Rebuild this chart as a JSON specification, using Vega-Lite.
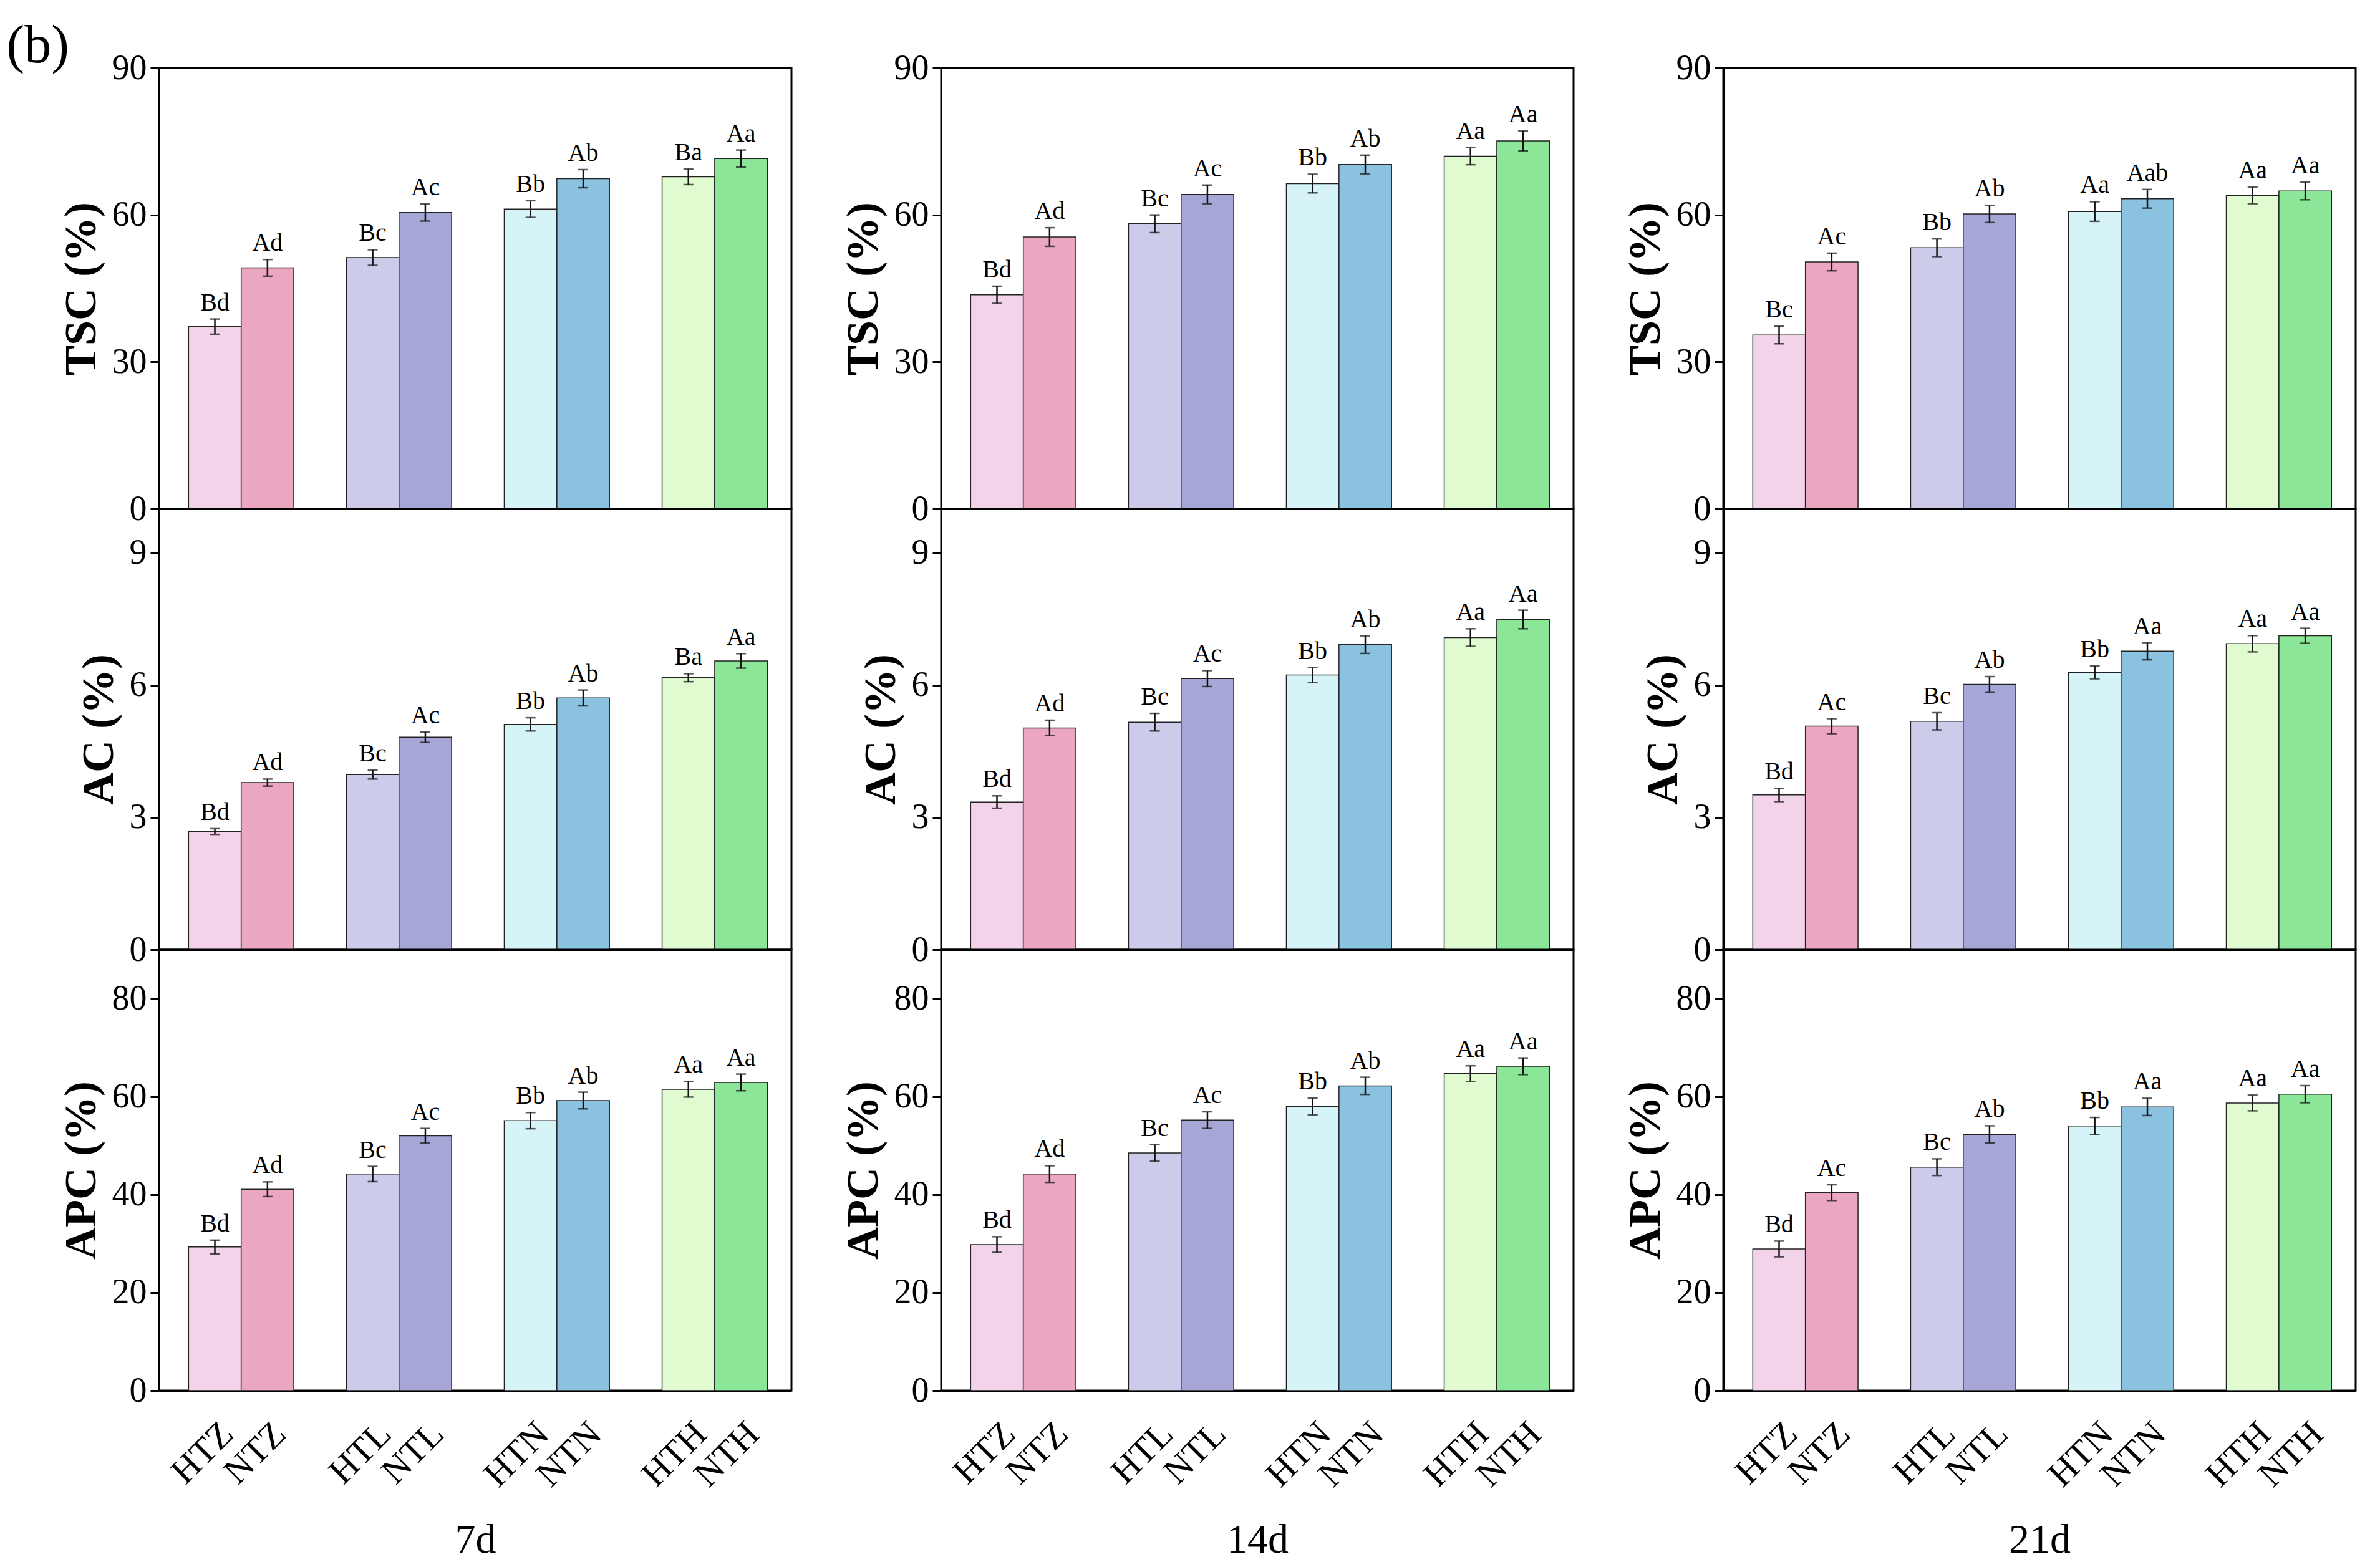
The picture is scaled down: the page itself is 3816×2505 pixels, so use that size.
{
"$schema": "https://vega.github.io/schema/vega-lite/v6.json",
"background": "white",
"padding": {"left": 10, "top": 30, "right": 20, "bottom": 10},
"title": {"text": "(b)", "anchor": "start", "frame": "bounds", "fontSize": 86, "fontWeight": "normal", "font": "Liberation Serif", "color": "black", "dx": -82, "offset": -38},
"datasets": {"d": [
{"day":"7d","m":"TSC","t":"HTZ","v":37.2,"e":1.55,"lab":"Bd"},
{"day":"7d","m":"TSC","t":"NTZ","v":49.2,"e":1.7,"lab":"Ad"},
{"day":"7d","m":"TSC","t":"HTL","v":51.3,"e":1.6,"lab":"Bc"},
{"day":"7d","m":"TSC","t":"NTL","v":60.5,"e":1.75,"lab":"Ac"},
{"day":"7d","m":"TSC","t":"HTN","v":61.2,"e":1.7,"lab":"Bb"},
{"day":"7d","m":"TSC","t":"NTN","v":67.4,"e":1.85,"lab":"Ab"},
{"day":"7d","m":"TSC","t":"HTH","v":67.8,"e":1.6,"lab":"Ba"},
{"day":"7d","m":"TSC","t":"NTH","v":71.5,"e":1.75,"lab":"Aa"},
{"day":"7d","m":"AC","t":"HTZ","v":2.68,"e":0.065,"lab":"Bd"},
{"day":"7d","m":"AC","t":"NTZ","v":3.79,"e":0.08,"lab":"Ad"},
{"day":"7d","m":"AC","t":"HTL","v":3.97,"e":0.1,"lab":"Bc"},
{"day":"7d","m":"AC","t":"NTL","v":4.82,"e":0.12,"lab":"Ac"},
{"day":"7d","m":"AC","t":"HTN","v":5.11,"e":0.15,"lab":"Bb"},
{"day":"7d","m":"AC","t":"NTN","v":5.71,"e":0.18,"lab":"Ab"},
{"day":"7d","m":"AC","t":"HTH","v":6.17,"e":0.09,"lab":"Ba"},
{"day":"7d","m":"AC","t":"NTH","v":6.55,"e":0.165,"lab":"Aa"},
{"day":"7d","m":"APC","t":"HTZ","v":29.3,"e":1.4,"lab":"Bd"},
{"day":"7d","m":"APC","t":"NTZ","v":41.1,"e":1.5,"lab":"Ad"},
{"day":"7d","m":"APC","t":"HTL","v":44.2,"e":1.55,"lab":"Bc"},
{"day":"7d","m":"APC","t":"NTL","v":52.0,"e":1.5,"lab":"Ac"},
{"day":"7d","m":"APC","t":"HTN","v":55.1,"e":1.65,"lab":"Bb"},
{"day":"7d","m":"APC","t":"NTN","v":59.2,"e":1.7,"lab":"Ab"},
{"day":"7d","m":"APC","t":"HTH","v":61.5,"e":1.6,"lab":"Aa"},
{"day":"7d","m":"APC","t":"NTH","v":62.9,"e":1.7,"lab":"Aa"},
{"day":"14d","m":"TSC","t":"HTZ","v":43.7,"e":1.75,"lab":"Bd"},
{"day":"14d","m":"TSC","t":"NTZ","v":55.5,"e":1.9,"lab":"Ad"},
{"day":"14d","m":"TSC","t":"HTL","v":58.2,"e":1.8,"lab":"Bc"},
{"day":"14d","m":"TSC","t":"NTL","v":64.2,"e":1.9,"lab":"Ac"},
{"day":"14d","m":"TSC","t":"HTN","v":66.4,"e":1.9,"lab":"Bb"},
{"day":"14d","m":"TSC","t":"NTN","v":70.3,"e":1.9,"lab":"Ab"},
{"day":"14d","m":"TSC","t":"HTH","v":72.0,"e":1.75,"lab":"Aa"},
{"day":"14d","m":"TSC","t":"NTH","v":75.1,"e":2.05,"lab":"Aa"},
{"day":"14d","m":"AC","t":"HTZ","v":3.35,"e":0.14,"lab":"Bd"},
{"day":"14d","m":"AC","t":"NTZ","v":5.03,"e":0.175,"lab":"Ad"},
{"day":"14d","m":"AC","t":"HTL","v":5.16,"e":0.2,"lab":"Bc"},
{"day":"14d","m":"AC","t":"NTL","v":6.15,"e":0.18,"lab":"Ac"},
{"day":"14d","m":"AC","t":"HTN","v":6.23,"e":0.17,"lab":"Bb"},
{"day":"14d","m":"AC","t":"NTN","v":6.92,"e":0.2,"lab":"Ab"},
{"day":"14d","m":"AC","t":"HTH","v":7.08,"e":0.2,"lab":"Aa"},
{"day":"14d","m":"AC","t":"NTH","v":7.49,"e":0.21,"lab":"Aa"},
{"day":"14d","m":"APC","t":"HTZ","v":29.8,"e":1.6,"lab":"Bd"},
{"day":"14d","m":"APC","t":"NTZ","v":44.2,"e":1.7,"lab":"Ad"},
{"day":"14d","m":"APC","t":"HTL","v":48.5,"e":1.7,"lab":"Bc"},
{"day":"14d","m":"APC","t":"NTL","v":55.2,"e":1.7,"lab":"Ac"},
{"day":"14d","m":"APC","t":"HTN","v":58.0,"e":1.7,"lab":"Bb"},
{"day":"14d","m":"APC","t":"NTN","v":62.2,"e":1.75,"lab":"Ab"},
{"day":"14d","m":"APC","t":"HTH","v":64.7,"e":1.6,"lab":"Aa"},
{"day":"14d","m":"APC","t":"NTH","v":66.2,"e":1.7,"lab":"Aa"},
{"day":"21d","m":"TSC","t":"HTZ","v":35.5,"e":1.8,"lab":"Bc"},
{"day":"21d","m":"TSC","t":"NTZ","v":50.4,"e":1.8,"lab":"Ac"},
{"day":"21d","m":"TSC","t":"HTL","v":53.3,"e":1.8,"lab":"Bb"},
{"day":"21d","m":"TSC","t":"NTL","v":60.2,"e":1.75,"lab":"Ab"},
{"day":"21d","m":"TSC","t":"HTN","v":60.7,"e":2.0,"lab":"Aa"},
{"day":"21d","m":"TSC","t":"NTN","v":63.3,"e":1.9,"lab":"Aab"},
{"day":"21d","m":"TSC","t":"HTH","v":64.0,"e":1.7,"lab":"Aa"},
{"day":"21d","m":"TSC","t":"NTH","v":64.9,"e":1.8,"lab":"Aa"},
{"day":"21d","m":"AC","t":"HTZ","v":3.51,"e":0.15,"lab":"Bd"},
{"day":"21d","m":"AC","t":"NTZ","v":5.07,"e":0.17,"lab":"Ac"},
{"day":"21d","m":"AC","t":"HTL","v":5.18,"e":0.195,"lab":"Bc"},
{"day":"21d","m":"AC","t":"NTL","v":6.02,"e":0.175,"lab":"Ab"},
{"day":"21d","m":"AC","t":"HTN","v":6.29,"e":0.145,"lab":"Bb"},
{"day":"21d","m":"AC","t":"NTN","v":6.77,"e":0.195,"lab":"Aa"},
{"day":"21d","m":"AC","t":"HTH","v":6.94,"e":0.185,"lab":"Aa"},
{"day":"21d","m":"AC","t":"NTH","v":7.12,"e":0.17,"lab":"Aa"},
{"day":"21d","m":"APC","t":"HTZ","v":28.9,"e":1.6,"lab":"Bd"},
{"day":"21d","m":"APC","t":"NTZ","v":40.4,"e":1.6,"lab":"Ac"},
{"day":"21d","m":"APC","t":"HTL","v":45.6,"e":1.7,"lab":"Bc"},
{"day":"21d","m":"APC","t":"NTL","v":52.3,"e":1.75,"lab":"Ab"},
{"day":"21d","m":"APC","t":"HTN","v":54.0,"e":1.75,"lab":"Bb"},
{"day":"21d","m":"APC","t":"NTN","v":57.9,"e":1.75,"lab":"Aa"},
{"day":"21d","m":"APC","t":"HTH","v":58.7,"e":1.6,"lab":"Aa"},
{"day":"21d","m":"APC","t":"NTH","v":60.5,"e":1.75,"lab":"Aa"}
]},
"data": {"name": "d"},
"config": {
  "font": "Liberation Serif",
  "view": {"stroke": "black", "strokeWidth": 3},
  "axis": {"labelFont": "Liberation Serif", "titleFont": "Liberation Serif", "labelColor": "black", "titleColor": "black", "domainColor": "black", "tickColor": "black", "grid": false, "domainWidth": 3, "tickWidth": 3},
  "axisY": {"labelFontSize": 56, "tickSize": 14, "labelPadding": 6, "titleFontSize": 72, "titleFontWeight": "bold", "titlePadding": 12, "format": "d"},
  "axisX": {"ticks": false, "labelOverlap": false},
  "text": {"font": "Liberation Serif", "color": "black"}
},
"hconcat": [
 {"vconcat": [
  {"width": 1014, "height": 707,
   "transform": [{"filter": "datum.day == '7d' && datum.m == 'TSC'"}, {"calculate": "datum.v + datum.e", "as": "hi"}],
   "encoding": {"x": {"field": "t", "type": "nominal", "sort": null, "scale": {"domain": ["HTZ","NTZ","s1","HTL","NTL","s2","HTN","NTN","s3","HTH","NTH"], "paddingInner": 0, "paddingOuter": 0.51, "align": 0.55}, "axis": {"labels": false, "title": null}}},
   "layer": [
    {"mark": {"type": "bar", "stroke": "#222222", "strokeWidth": 1.5}, "encoding": {"y": {"field": "v", "type": "quantitative", "title": "TSC (%)", "scale": {"domain": [0, 90], "nice": false}, "axis": {"values": [0, 30, 60, 90]}}, "color": {"field": "t", "type": "nominal", "scale": {"domain": ["HTZ","NTZ","HTL","NTL","HTN","NTN","HTH","NTH"], "range": ["#F3D3EA","#EBA7C1","#CCCBEA","#A6A7D7","#D6F4F7","#8AC2E0","#E0FBD0","#8CE698"]}, "legend": null}}},
    {"mark": {"type": "errorbar", "ticks": {"size": 16, "thickness": 2.5, "color": "#111111"}, "rule": {"strokeWidth": 2.5, "color": "#111111"}}, "encoding": {"y": {"field": "v", "type": "quantitative", "title": "TSC (%)"}, "yError": {"field": "e"}}},
    {"mark": {"type": "text", "dy": -14, "fontSize": 40, "baseline": "alphabetic"}, "encoding": {"y": {"field": "hi", "type": "quantitative", "title": "TSC (%)"}, "text": {"field": "lab"}}}
   ]},
  {"width": 1014, "height": 707,
   "transform": [{"filter": "datum.day == '7d' && datum.m == 'AC'"}, {"calculate": "datum.v + datum.e", "as": "hi"}],
   "encoding": {"x": {"field": "t", "type": "nominal", "sort": null, "scale": {"domain": ["HTZ","NTZ","s1","HTL","NTL","s2","HTN","NTN","s3","HTH","NTH"], "paddingInner": 0, "paddingOuter": 0.51, "align": 0.55}, "axis": {"labels": false, "title": null}}},
   "layer": [
    {"mark": {"type": "bar", "stroke": "#222222", "strokeWidth": 1.5}, "encoding": {"y": {"field": "v", "type": "quantitative", "title": "AC (%)", "scale": {"domain": [0, 10], "nice": false}, "axis": {"values": [0, 3, 6, 9]}}, "color": {"field": "t", "type": "nominal", "scale": {"domain": ["HTZ","NTZ","HTL","NTL","HTN","NTN","HTH","NTH"], "range": ["#F3D3EA","#EBA7C1","#CCCBEA","#A6A7D7","#D6F4F7","#8AC2E0","#E0FBD0","#8CE698"]}, "legend": null}}},
    {"mark": {"type": "errorbar", "ticks": {"size": 16, "thickness": 2.5, "color": "#111111"}, "rule": {"strokeWidth": 2.5, "color": "#111111"}}, "encoding": {"y": {"field": "v", "type": "quantitative", "title": "AC (%)"}, "yError": {"field": "e"}}},
    {"mark": {"type": "text", "dy": -14, "fontSize": 40, "baseline": "alphabetic"}, "encoding": {"y": {"field": "hi", "type": "quantitative", "title": "AC (%)"}, "text": {"field": "lab"}}}
   ]},
  {"width": 1014, "height": 707,
   "transform": [{"filter": "datum.day == '7d' && datum.m == 'APC'"}, {"calculate": "datum.v + datum.e", "as": "hi"}],
   "encoding": {"x": {"field": "t", "type": "nominal", "sort": null, "scale": {"domain": ["HTZ","NTZ","s1","HTL","NTL","s2","HTN","NTN","s3","HTH","NTH"], "paddingInner": 0, "paddingOuter": 0.51, "align": 0.55}, "axis": {"labelAngle": -45, "labelAlign": "right", "labelBaseline": "top", "labelFontSize": 58, "labelPadding": 40, "labelExpr": "length(datum.value) == 3 ? datum.value : ''", "title": "7d", "titleFontSize": 66, "titleFontWeight": "normal", "titlePadding": 42}}},
   "layer": [
    {"mark": {"type": "bar", "stroke": "#222222", "strokeWidth": 1.5}, "encoding": {"y": {"field": "v", "type": "quantitative", "title": "APC (%)", "scale": {"domain": [0, 90], "nice": false}, "axis": {"values": [0, 20, 40, 60, 80]}}, "color": {"field": "t", "type": "nominal", "scale": {"domain": ["HTZ","NTZ","HTL","NTL","HTN","NTN","HTH","NTH"], "range": ["#F3D3EA","#EBA7C1","#CCCBEA","#A6A7D7","#D6F4F7","#8AC2E0","#E0FBD0","#8CE698"]}, "legend": null}}},
    {"mark": {"type": "errorbar", "ticks": {"size": 16, "thickness": 2.5, "color": "#111111"}, "rule": {"strokeWidth": 2.5, "color": "#111111"}}, "encoding": {"y": {"field": "v", "type": "quantitative", "title": "APC (%)"}, "yError": {"field": "e"}}},
    {"mark": {"type": "text", "dy": -14, "fontSize": 40, "baseline": "alphabetic"}, "encoding": {"y": {"field": "hi", "type": "quantitative", "title": "APC (%)"}, "text": {"field": "lab"}}}
   ]}
 ], "spacing": 0, "bounds": "flush"},
 {"vconcat": [
  {"width": 1014, "height": 707,
   "transform": [{"filter": "datum.day == '14d' && datum.m == 'TSC'"}, {"calculate": "datum.v + datum.e", "as": "hi"}],
   "encoding": {"x": {"field": "t", "type": "nominal", "sort": null, "scale": {"domain": ["HTZ","NTZ","s1","HTL","NTL","s2","HTN","NTN","s3","HTH","NTH"], "paddingInner": 0, "paddingOuter": 0.51, "align": 0.55}, "axis": {"labels": false, "title": null}}},
   "layer": [
    {"mark": {"type": "bar", "stroke": "#222222", "strokeWidth": 1.5}, "encoding": {"y": {"field": "v", "type": "quantitative", "title": "TSC (%)", "scale": {"domain": [0, 90], "nice": false}, "axis": {"values": [0, 30, 60, 90]}}, "color": {"field": "t", "type": "nominal", "scale": {"domain": ["HTZ","NTZ","HTL","NTL","HTN","NTN","HTH","NTH"], "range": ["#F3D3EA","#EBA7C1","#CCCBEA","#A6A7D7","#D6F4F7","#8AC2E0","#E0FBD0","#8CE698"]}, "legend": null}}},
    {"mark": {"type": "errorbar", "ticks": {"size": 16, "thickness": 2.5, "color": "#111111"}, "rule": {"strokeWidth": 2.5, "color": "#111111"}}, "encoding": {"y": {"field": "v", "type": "quantitative", "title": "TSC (%)"}, "yError": {"field": "e"}}},
    {"mark": {"type": "text", "dy": -14, "fontSize": 40, "baseline": "alphabetic"}, "encoding": {"y": {"field": "hi", "type": "quantitative", "title": "TSC (%)"}, "text": {"field": "lab"}}}
   ]},
  {"width": 1014, "height": 707,
   "transform": [{"filter": "datum.day == '14d' && datum.m == 'AC'"}, {"calculate": "datum.v + datum.e", "as": "hi"}],
   "encoding": {"x": {"field": "t", "type": "nominal", "sort": null, "scale": {"domain": ["HTZ","NTZ","s1","HTL","NTL","s2","HTN","NTN","s3","HTH","NTH"], "paddingInner": 0, "paddingOuter": 0.51, "align": 0.55}, "axis": {"labels": false, "title": null}}},
   "layer": [
    {"mark": {"type": "bar", "stroke": "#222222", "strokeWidth": 1.5}, "encoding": {"y": {"field": "v", "type": "quantitative", "title": "AC (%)", "scale": {"domain": [0, 10], "nice": false}, "axis": {"values": [0, 3, 6, 9]}}, "color": {"field": "t", "type": "nominal", "scale": {"domain": ["HTZ","NTZ","HTL","NTL","HTN","NTN","HTH","NTH"], "range": ["#F3D3EA","#EBA7C1","#CCCBEA","#A6A7D7","#D6F4F7","#8AC2E0","#E0FBD0","#8CE698"]}, "legend": null}}},
    {"mark": {"type": "errorbar", "ticks": {"size": 16, "thickness": 2.5, "color": "#111111"}, "rule": {"strokeWidth": 2.5, "color": "#111111"}}, "encoding": {"y": {"field": "v", "type": "quantitative", "title": "AC (%)"}, "yError": {"field": "e"}}},
    {"mark": {"type": "text", "dy": -14, "fontSize": 40, "baseline": "alphabetic"}, "encoding": {"y": {"field": "hi", "type": "quantitative", "title": "AC (%)"}, "text": {"field": "lab"}}}
   ]},
  {"width": 1014, "height": 707,
   "transform": [{"filter": "datum.day == '14d' && datum.m == 'APC'"}, {"calculate": "datum.v + datum.e", "as": "hi"}],
   "encoding": {"x": {"field": "t", "type": "nominal", "sort": null, "scale": {"domain": ["HTZ","NTZ","s1","HTL","NTL","s2","HTN","NTN","s3","HTH","NTH"], "paddingInner": 0, "paddingOuter": 0.51, "align": 0.55}, "axis": {"labelAngle": -45, "labelAlign": "right", "labelBaseline": "top", "labelFontSize": 58, "labelPadding": 40, "labelExpr": "length(datum.value) == 3 ? datum.value : ''", "title": "14d", "titleFontSize": 66, "titleFontWeight": "normal", "titlePadding": 42}}},
   "layer": [
    {"mark": {"type": "bar", "stroke": "#222222", "strokeWidth": 1.5}, "encoding": {"y": {"field": "v", "type": "quantitative", "title": "APC (%)", "scale": {"domain": [0, 90], "nice": false}, "axis": {"values": [0, 20, 40, 60, 80]}}, "color": {"field": "t", "type": "nominal", "scale": {"domain": ["HTZ","NTZ","HTL","NTL","HTN","NTN","HTH","NTH"], "range": ["#F3D3EA","#EBA7C1","#CCCBEA","#A6A7D7","#D6F4F7","#8AC2E0","#E0FBD0","#8CE698"]}, "legend": null}}},
    {"mark": {"type": "errorbar", "ticks": {"size": 16, "thickness": 2.5, "color": "#111111"}, "rule": {"strokeWidth": 2.5, "color": "#111111"}}, "encoding": {"y": {"field": "v", "type": "quantitative", "title": "APC (%)"}, "yError": {"field": "e"}}},
    {"mark": {"type": "text", "dy": -14, "fontSize": 40, "baseline": "alphabetic"}, "encoding": {"y": {"field": "hi", "type": "quantitative", "title": "APC (%)"}, "text": {"field": "lab"}}}
   ]}
 ], "spacing": 0, "bounds": "flush"},
 {"vconcat": [
  {"width": 1014, "height": 707,
   "transform": [{"filter": "datum.day == '21d' && datum.m == 'TSC'"}, {"calculate": "datum.v + datum.e", "as": "hi"}],
   "encoding": {"x": {"field": "t", "type": "nominal", "sort": null, "scale": {"domain": ["HTZ","NTZ","s1","HTL","NTL","s2","HTN","NTN","s3","HTH","NTH"], "paddingInner": 0, "paddingOuter": 0.51, "align": 0.55}, "axis": {"labels": false, "title": null}}},
   "layer": [
    {"mark": {"type": "bar", "stroke": "#222222", "strokeWidth": 1.5}, "encoding": {"y": {"field": "v", "type": "quantitative", "title": "TSC (%)", "scale": {"domain": [0, 90], "nice": false}, "axis": {"values": [0, 30, 60, 90]}}, "color": {"field": "t", "type": "nominal", "scale": {"domain": ["HTZ","NTZ","HTL","NTL","HTN","NTN","HTH","NTH"], "range": ["#F3D3EA","#EBA7C1","#CCCBEA","#A6A7D7","#D6F4F7","#8AC2E0","#E0FBD0","#8CE698"]}, "legend": null}}},
    {"mark": {"type": "errorbar", "ticks": {"size": 16, "thickness": 2.5, "color": "#111111"}, "rule": {"strokeWidth": 2.5, "color": "#111111"}}, "encoding": {"y": {"field": "v", "type": "quantitative", "title": "TSC (%)"}, "yError": {"field": "e"}}},
    {"mark": {"type": "text", "dy": -14, "fontSize": 40, "baseline": "alphabetic"}, "encoding": {"y": {"field": "hi", "type": "quantitative", "title": "TSC (%)"}, "text": {"field": "lab"}}}
   ]},
  {"width": 1014, "height": 707,
   "transform": [{"filter": "datum.day == '21d' && datum.m == 'AC'"}, {"calculate": "datum.v + datum.e", "as": "hi"}],
   "encoding": {"x": {"field": "t", "type": "nominal", "sort": null, "scale": {"domain": ["HTZ","NTZ","s1","HTL","NTL","s2","HTN","NTN","s3","HTH","NTH"], "paddingInner": 0, "paddingOuter": 0.51, "align": 0.55}, "axis": {"labels": false, "title": null}}},
   "layer": [
    {"mark": {"type": "bar", "stroke": "#222222", "strokeWidth": 1.5}, "encoding": {"y": {"field": "v", "type": "quantitative", "title": "AC (%)", "scale": {"domain": [0, 10], "nice": false}, "axis": {"values": [0, 3, 6, 9]}}, "color": {"field": "t", "type": "nominal", "scale": {"domain": ["HTZ","NTZ","HTL","NTL","HTN","NTN","HTH","NTH"], "range": ["#F3D3EA","#EBA7C1","#CCCBEA","#A6A7D7","#D6F4F7","#8AC2E0","#E0FBD0","#8CE698"]}, "legend": null}}},
    {"mark": {"type": "errorbar", "ticks": {"size": 16, "thickness": 2.5, "color": "#111111"}, "rule": {"strokeWidth": 2.5, "color": "#111111"}}, "encoding": {"y": {"field": "v", "type": "quantitative", "title": "AC (%)"}, "yError": {"field": "e"}}},
    {"mark": {"type": "text", "dy": -14, "fontSize": 40, "baseline": "alphabetic"}, "encoding": {"y": {"field": "hi", "type": "quantitative", "title": "AC (%)"}, "text": {"field": "lab"}}}
   ]},
  {"width": 1014, "height": 707,
   "transform": [{"filter": "datum.day == '21d' && datum.m == 'APC'"}, {"calculate": "datum.v + datum.e", "as": "hi"}],
   "encoding": {"x": {"field": "t", "type": "nominal", "sort": null, "scale": {"domain": ["HTZ","NTZ","s1","HTL","NTL","s2","HTN","NTN","s3","HTH","NTH"], "paddingInner": 0, "paddingOuter": 0.51, "align": 0.55}, "axis": {"labelAngle": -45, "labelAlign": "right", "labelBaseline": "top", "labelFontSize": 58, "labelPadding": 40, "labelExpr": "length(datum.value) == 3 ? datum.value : ''", "title": "21d", "titleFontSize": 66, "titleFontWeight": "normal", "titlePadding": 42}}},
   "layer": [
    {"mark": {"type": "bar", "stroke": "#222222", "strokeWidth": 1.5}, "encoding": {"y": {"field": "v", "type": "quantitative", "title": "APC (%)", "scale": {"domain": [0, 90], "nice": false}, "axis": {"values": [0, 20, 40, 60, 80]}}, "color": {"field": "t", "type": "nominal", "scale": {"domain": ["HTZ","NTZ","HTL","NTL","HTN","NTN","HTH","NTH"], "range": ["#F3D3EA","#EBA7C1","#CCCBEA","#A6A7D7","#D6F4F7","#8AC2E0","#E0FBD0","#8CE698"]}, "legend": null}}},
    {"mark": {"type": "errorbar", "ticks": {"size": 16, "thickness": 2.5, "color": "#111111"}, "rule": {"strokeWidth": 2.5, "color": "#111111"}}, "encoding": {"y": {"field": "v", "type": "quantitative", "title": "APC (%)"}, "yError": {"field": "e"}}},
    {"mark": {"type": "text", "dy": -14, "fontSize": 40, "baseline": "alphabetic"}, "encoding": {"y": {"field": "hi", "type": "quantitative", "title": "APC (%)"}, "text": {"field": "lab"}}}
   ]}
 ], "spacing": 0, "bounds": "flush"}
],
"spacing": 75
}
